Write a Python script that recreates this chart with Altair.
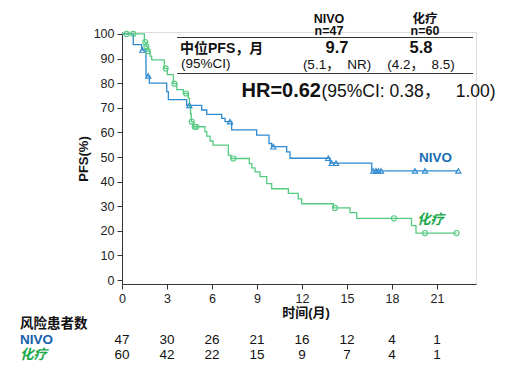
import altair as alt
import pandas as pd

FONT = "Liberation Sans, Arial, Noto Sans CJK SC"

# ---- Kaplan-Meier step data (months, PFS %) ----
nivo_t = [0, 0.75, 1.31, 1.6, 1.82, 2.98, 3.09, 4.31, 5.31, 5.65, 6.65, 6.87, 7.31,
          8.98, 9.8, 9.98, 10.98, 11.2, 13.87, 16.65, 22.42]
nivo_s = [100, 95.7, 93.5, 83.0, 80.0, 76.6, 73.3, 71.0, 69.1, 67.3, 65.7, 64.4, 61.0,
          58.9, 55.5, 54.2, 52.1, 49.5, 47.5, 44.4, 44.4]
nivo_cens_t = [1.35, 1.75, 4.49, 7.2, 10.09, 13.75, 13.98, 14.27, 16.75, 16.93, 17.09,
               17.27, 19.53, 20.2, 22.42]
nivo_cens_s = [93.5, 83.0, 71.0, 64.4, 54.2, 49.5, 47.5, 47.5, 44.4, 44.4, 44.4,
               44.4, 44.4, 44.4, 44.4]

chemo_t = [0, 1.49, 1.6, 1.72, 1.87, 1.98, 2.82, 3.02, 3.42, 3.65, 4.09, 4.42, 4.5, 4.57,
           4.62, 4.75, 5.53, 5.65, 5.87, 6.07, 7.09, 7.27, 8.49, 8.65, 8.87, 9.2, 9.65,
           9.98, 11.09, 11.75, 11.98, 14.09, 15.2, 15.65, 19.3, 19.6, 22.3]
chemo_s = [100, 96.7, 94.9, 93.0, 91.0, 89.5, 86.0, 83.5, 79.8, 77.4, 75.8, 73.9, 70.5, 67.5,
           64.4, 62.3, 60.3, 58.5, 56.5, 54.8, 50.7, 49.4, 47.3, 45.6, 44.0, 42.0, 39.2,
           37.1, 35.2, 33.0, 31.0, 29.3, 27.4, 25.1, 22.1, 19.1, 19.1]
chemo_cens_t = [0.31, 0.75, 1.55, 1.63, 1.72, 2.91, 3.49, 4.27, 4.65, 4.85, 4.95, 7.42,
                14.2, 18.13, 20.2, 22.3]
chemo_cens_s = [100, 100, 96.7, 94.9, 93.0, 86.0, 79.8, 75.8, 64.4, 62.3, 62.3, 49.4,
                29.3, 25.1, 19.1, 19.1]

# ---- risk table ----
risk_times = [0, 3, 6, 9, 12, 15, 18, 21]
risk_nivo = [47, 30, 26, 21, 16, 12, 4, 1]
risk_chemo = [60, 42, 22, 15, 9, 7, 4, 1]

x_ticks = [0, 3, 6, 9, 12, 15, 18, 21]
y_ticks = list(range(0, 101, 10))

BLUE_LINE = "#2f8ad0"
GREEN_LINE = "#55ca82"
BLUE_TXT = "#1a6db4"
GREEN_TXT = "#18a74a"

# plot-area origin in page pixels
OX, OY = 122, 32
W, H = 354, 252

line_df = pd.DataFrame({
    "t": nivo_t + chemo_t,
    "s": nivo_s + chemo_s,
    "g": ["NIVO"] * len(nivo_t) + ["化疗"] * len(chemo_t),
})
nivo_c = pd.DataFrame({"t": nivo_cens_t, "s": nivo_cens_s})
chemo_c = pd.DataFrame({"t": chemo_cens_t, "s": chemo_cens_s})

xs = alt.Scale(domain=[0, 23.6], nice=False, zero=False)
ys = alt.Scale(domain=[-1.6, 100.8], nice=False, zero=False)

AX = dict(grid=False, tickSize=5, labelPadding=3, labelFontSize=12.5, labelFont=FONT,
          labelColor="#222", domainColor="#333", tickColor="#333",
          labelOverlap=False, labelFlush=False, title=None)
X = alt.X("t:Q", scale=xs, axis=alt.Axis(values=x_ticks, **AX))
Y = alt.Y("s:Q", scale=ys, axis=alt.Axis(values=y_ticks, **AX))

lines = alt.Chart(line_df).mark_line(interpolate="step-after", strokeWidth=1.3).encode(
    x=X, y=Y,
    color=alt.Color("g:N", scale=alt.Scale(domain=["NIVO", "化疗"],
                                            range=[BLUE_LINE, GREEN_LINE]), legend=None),
    detail="g:N",
    order=alt.Order("t:Q"),
)

nivo_pts = alt.Chart(nivo_c).mark_point(shape="triangle-up", filled=False, size=28,
                                        strokeWidth=1.1, color=BLUE_LINE, opacity=1).encode(
    x=X, y=Y)
chemo_pts = alt.Chart(chemo_c).mark_point(shape="circle", filled=False, size=26,
                                          strokeWidth=1.1, color=GREEN_LINE, opacity=1).encode(
    x=X, y=Y)

dummy = pd.DataFrame({"a": [0]})


def txt(s, px, py, size=13, weight="normal", color="#111", align="left",
        style="normal", angle=0):
    return alt.Chart(dummy).mark_text(
        text=s, font=FONT, fontSize=size, fontWeight=weight, color=color,
        align=align, baseline="middle", fontStyle=style, angle=angle,
    ).encode(x=alt.value(px - OX), y=alt.value(py - OY))


def hrule(px1, px2, py):
    return alt.Chart(dummy).mark_rule(color="#333", strokeWidth=1.2).encode(
        x=alt.value(px1 - OX), x2=alt.value(px2 - OX), y=alt.value(py - OY))


NB = "\u00a0"
annots = [
    txt("NIVO", 329, 18.5, 12.5, "bold", align="center"),
    txt("n=47", 329, 31, 12.5, "bold", align="center"),
    txt("化疗", 425, 18.5, 12.5, "bold", align="center"),
    txt("n=60", 425, 31, 12.5, "bold", align="center"),
    hrule(177, 473, 37.5),
    txt("中位PFS，月", 180, 48.5, 14, "bold"),
    txt("(95%CI)", 181, 64, 13.5),
    txt("9.7", 337, 47.5, 16.5, "bold", align="center"),
    txt("5.8", 421, 47.5, 16.5, "bold", align="center"),
    txt("(5.1，" + NB * 2 + "NR)", 337, 64.5, 13.5, align="center"),
    txt("(4.2，" + NB * 2 + "8.5)", 421, 64.5, 13.5, align="center"),
    hrule(177, 473, 73.5),
    txt("HR=0.62", 241.5, 91, 20, "bold"),
    txt("(95%CI: 0.38，" + NB * 3 + "1.00)", 321.5, 92, 17.5),
    txt("NIVO", 419, 157.5, 13.5, "bold", BLUE_TXT),
    txt("化疗", 417, 220, 13.5, "bold", GREEN_TXT, style="italic"),
    txt("PFS(%)", 84, 159, 13, "bold", angle=270, align="center"),
    txt("时间(月)", 306, 313, 13, "bold", align="center"),
    txt("风险患者数", 20, 323.5, 13.5, "bold"),
    txt("NIVO", 20, 340, 13.5, "bold", "#1560ac"),
    txt("化疗", 20, 355, 13.5, "bold", GREEN_TXT, style="italic"),
]

risk_df = pd.DataFrame({
    "t": risk_times * 2,
    "n": risk_nivo + risk_chemo,
    "row": ["NIVO"] * len(risk_times) + ["化疗"] * len(risk_times),
})
risk1 = alt.Chart(risk_df[risk_df.row == "NIVO"]).mark_text(
    font=FONT, fontSize=13.5, color="#111", baseline="middle", align="center").encode(
    x=X, y=alt.value(340 - OY), text="n:Q")
risk2 = alt.Chart(risk_df[risk_df.row == "化疗"]).mark_text(
    font=FONT, fontSize=13.5, color="#111", baseline="middle", align="center").encode(
    x=X, y=alt.value(355 - OY), text="n:Q")

chart = alt.layer(lines, chemo_pts, nivo_pts, risk1, risk2, *annots).properties(
    width=W, height=H,
    autosize=alt.AutoSizeParams(type="none"),
    padding={"left": OX - 8, "top": OY - 8, "right": 35, "bottom": 84},
).configure_view(stroke=None).configure(background="white")

chart.save("out.html", embed_options={"renderer": "svg", "actions": False})
